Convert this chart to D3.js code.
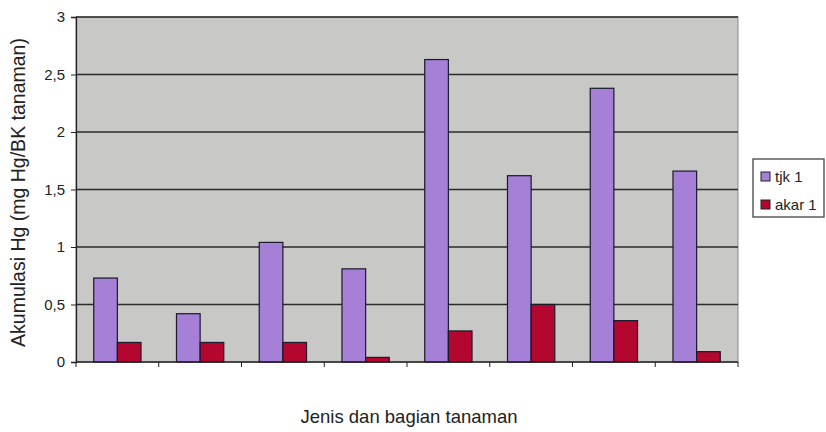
<!DOCTYPE html>
<html>
<head>
<meta charset="utf-8">
<script src="https://cdn.jsdelivr.net/npm/d3@7"></script>
<style>
  body { margin: 0; background: #fff; }
  svg { font-family: "Liberation Sans", Arial, sans-serif; }
</style>
</head>
<body>
<div id="chart"></div>
<script>
// Akumulasi Hg per jenis dan bagian tanaman
const categories = ['1', '2', '3', '4', '5', '6', '7', '8'];
const seriesNames = ['tjk 1', 'akar 1'];
const tjk = [0.73, 0.42, 1.04, 0.81, 2.63, 1.62, 2.38, 1.66];
const akar = [0.17, 0.17, 0.17, 0.04, 0.27, 0.50, 0.36, 0.09];
const yTicks = [0, 0.5, 1, 1.5, 2, 2.5, 3];

const width = 826, height = 432;
const margin = { top: 17, right: 88, bottom: 70, left: 76 };
const colors = ['#a580d6', '#b3072f'];

const svg = d3.select('#chart')
    .append('svg')
    .attr('width', width)
    .attr('height', height);

const x = d3.scaleBand()
    .domain(categories)
    .range([margin.left, width - margin.right])
    .paddingInner(0)
    .paddingOuter(0);

const y = d3.scaleLinear()
    .domain([0, 3])
    .range([height - margin.bottom, margin.top]);

// gap width 150% like the spreadsheet default
const barW = x.bandwidth() / 3.5;
const x1 = d3.scaleBand()
    .domain(seriesNames)
    .range([barW * 0.75, barW * 2.75]);

// plot area
svg.append('rect')
    .attr('x', margin.left)
    .attr('y', margin.top)
    .attr('width', width - margin.right - margin.left)
    .attr('height', height - margin.bottom - margin.top)
    .attr('fill', '#c8c8c6')
    .attr('stroke', '#8a8a8a')
    .attr('stroke-width', 1);

// gridlines
svg.append('g')
    .selectAll('line')
    .data(yTicks.filter(d => d > 0))
    .join('line')
    .attr('x1', margin.left)
    .attr('x2', width - margin.right)
    .attr('y1', d => y(d))
    .attr('y2', d => y(d))
    .attr('stroke', '#2a2a2a')
    .attr('stroke-width', 1.3);

// bars
const rows = categories.map((c, i) => ({ cat: c, values: [tjk[i], akar[i]] }));

const group = svg.append('g')
    .selectAll('g')
    .data(rows)
    .join('g')
    .attr('transform', d => `translate(${x(d.cat)},0)`);

group.selectAll('rect')
    .data(d => d.values.map((v, k) => ({ name: seriesNames[k], value: v, k })))
    .join('rect')
    .attr('x', d => x1(d.name))
    .attr('y', d => y(d.value))
    .attr('width', x1.bandwidth())
    .attr('height', d => y(0) - y(d.value))
    .attr('fill', d => colors[d.k])
    .attr('stroke', '#1a1a2a')
    .attr('stroke-width', 1.2);

// y axis
const yAxis = svg.append('g')
    .attr('transform', `translate(${margin.left},0)`)
    .call(d3.axisLeft(y)
        .tickValues(yTicks)
        .tickSize(5)
        .tickPadding(6)
        .tickFormat(d => String(d).replace('.', ',')));
yAxis.select('.domain').attr('stroke', '#222').attr('stroke-width', 1.3);
yAxis.selectAll('.tick line').attr('stroke', '#222');
yAxis.selectAll('text').attr('font-size', '15px').attr('fill', '#222');

// x axis: ticks at category boundaries, no labels
const xAxis = svg.append('g')
    .attr('transform', `translate(0,${y(0)})`);
xAxis.append('line')
    .attr('x1', margin.left)
    .attr('x2', width - margin.right)
    .attr('stroke', '#222')
    .attr('stroke-width', 1.3);
xAxis.selectAll('.bt')
    .data(categories.map(c => x(c)).concat([x(categories[categories.length - 1]) + x.bandwidth()]))
    .join('line')
    .attr('class', 'bt')
    .attr('x1', d => d)
    .attr('x2', d => d)
    .attr('y1', 0)
    .attr('y2', 5)
    .attr('stroke', '#222');

// axis titles
svg.append('text')
    .attr('transform', `translate(25,${(margin.top + height - margin.bottom) / 2 + 3}) rotate(-90)`)
    .attr('text-anchor', 'middle')
    .attr('font-size', '19.5px')
    .attr('fill', '#222')
    .text('Akumulasi Hg (mg Hg/BK tanaman)');

svg.append('text')
    .attr('x', 409)
    .attr('y', 423)
    .attr('text-anchor', 'middle')
    .attr('font-size', '18.5px')
    .attr('fill', '#222')
    .text('Jenis dan bagian tanaman');

// legend
const legend = svg.append('g').attr('transform', 'translate(753,159)');
legend.append('rect')
    .attr('width', 71)
    .attr('height', 58)
    .attr('fill', '#fff')
    .attr('stroke', '#444')
    .attr('stroke-width', 1.3);
const item = legend.selectAll('g')
    .data(seriesNames)
    .join('g')
    .attr('transform', (d, i) => `translate(8,${18 + i * 28})`);
item.append('rect')
    .attr('x', 0)
    .attr('y', -5)
    .attr('width', 9)
    .attr('height', 9)
    .attr('fill', (d, i) => colors[i])
    .attr('stroke', '#222');
item.append('text')
    .attr('x', 14)
    .attr('y', 5)
    .attr('font-size', '15px')
    .attr('fill', '#222')
    .text(d => d);
</script>
</body>
</html>
